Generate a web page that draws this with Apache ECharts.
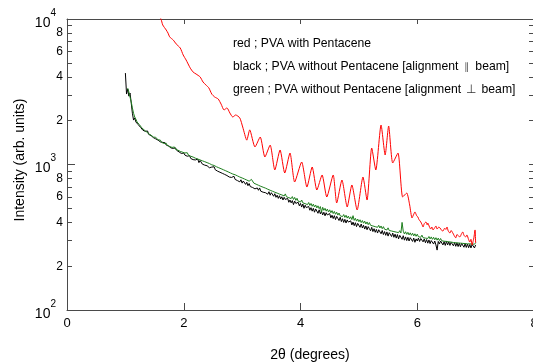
<!DOCTYPE html>
<html>
<head>
<meta charset="utf-8">
<script src="https://cdn.jsdelivr.net/npm/echarts@6/dist/echarts.min.js"></script>
<style>
  html, body { margin: 0; padding: 0; background: #ffffff; }
  #chart { width: 533px; height: 364px; }
</style>
</head>
<body>
<div id="chart"></div>
<script>
// X-ray reflectivity scans: intensity vs 2-theta
const xTickValues = [0, 2, 4, 6, 8];
const xInnerTicks = [2, 4, 6];
const yMinorTicks = [100, 200, 300, 400, 500, 600, 700, 800, 900,
                     1000, 2000, 3000, 4000, 5000, 6000, 7000, 8000, 9000, 10000];
const yMajorTicks = [100, 1000, 10000];
const yLabelValues = [100, 200, 400, 600, 800, 1000, 2000, 4000, 6000, 8000, 10000];
const yLabelTexts = ['10^2', '2', '4', '6', '8', '10^3', '2', '4', '6', '8', '10^4'];

const legendLines = [
  ['red ; PVA with Pentacene', '', ''],
  ['black ; PVA without Pentacene [alignment', '\u2225', 'beam]'],
  ['green ; PVA without Pentacene [alignment', '\u22A5', 'beam]']
];
const xAxisTitle = '2\u03B8 (degrees)';
const yAxisTitle = 'Intensity (arb. units)';

// red ; PVA with Pentacene
const redAngle = [1.56, 1.61, 1.64, 1.70, 1.73, 1.76, 1.82, 1.87, 1.94, 1.99, 2.04, 2.11, 2.16, 2.21, 2.28,
  2.33, 2.38, 2.43, 2.48, 2.53, 2.59, 2.64, 2.69, 2.74, 2.79, 2.84, 2.89, 2.96, 3.01, 3.08, 3.13,
  3.22, 3.31, 3.39, 3.48, 3.56, 3.65, 3.73, 3.82, 3.90, 4.02, 4.11, 4.20, 4.28, 4.37, 4.45, 4.56,
  4.62, 4.71, 4.80, 4.88, 4.97, 5.07, 5.14, 5.22, 5.29, 5.38, 5.45, 5.51, 5.58, 5.67, 5.75, 5.82,
  5.87, 5.91, 5.94, 5.96, 5.99, 6.01, 6.03, 6.06, 6.08, 6.10, 6.12, 6.15, 6.17, 6.18, 6.21, 6.23,
  6.25, 6.27, 6.30, 6.32, 6.34, 6.37, 6.39, 6.42, 6.44, 6.47, 6.49, 6.51, 6.53, 6.56, 6.58, 6.61,
  6.63, 6.66, 6.68, 6.71, 6.73, 6.76, 6.78, 6.80, 6.83, 6.85, 6.88, 6.90, 6.92, 6.94, 6.96, 6.97,
  6.99, 7.00];
const redIntensity = [10800, 10000, 9100, 8400, 8010, 7520, 7170, 6740, 6320, 5660, 5230, 4610, 4320, 4190, 4000,
  3690, 3520, 3360, 3050, 2910, 2820, 2600, 2370, 2450, 2260, 2120, 2190, 2090, 1810, 1470, 1730,
  1320, 1545, 1126, 1360, 917, 1258, 874, 1199, 758, 1040, 700, 961, 668, 847, 598, 847,
  544, 782, 511, 723, 487, 820, 570, 1298, 917, 1868, 1162, 1839, 1024, 1199, 598, 637,
  527, 429, 455, 472, 445, 436, 418, 403, 388, 372, 392, 403, 385, 396, 372, 360,
  372, 355, 368, 378, 360, 372, 366, 352, 349, 365, 358, 372, 350, 338, 352, 338,
  326, 313, 330, 322, 318, 335, 344, 326, 318, 328, 305, 293, 306, 280, 300, 313,
  355, 289];

// black and green scans share one angle grid (0.02 deg steps)
const scanAngle = [
  1.00, 1.02, 1.04, 1.06, 1.08, 1.10, 1.12, 1.14, 1.16, 1.18, 1.20, 1.22, 1.24, 1.26, 1.28, 1.30, 1.32, 1.34, 1.36, 1.38, 1.40, 1.42, 1.44, 1.46, 1.48,
  1.50, 1.52, 1.54, 1.56, 1.58, 1.60, 1.62, 1.64, 1.66, 1.68, 1.70, 1.72, 1.74, 1.76, 1.78, 1.80, 1.82, 1.84, 1.86, 1.88, 1.90, 1.92, 1.94, 1.96, 1.98,
  2.00, 2.02, 2.04, 2.06, 2.08, 2.10, 2.12, 2.14, 2.16, 2.18, 2.20, 2.22, 2.24, 2.26, 2.28, 2.30, 2.32, 2.34, 2.36, 2.38, 2.40, 2.42, 2.44, 2.46, 2.48,
  2.50, 2.52, 2.54, 2.56, 2.58, 2.60, 2.62, 2.64, 2.66, 2.68, 2.70, 2.72, 2.74, 2.76, 2.78, 2.80, 2.82, 2.84, 2.86, 2.88, 2.90, 2.92, 2.94, 2.96, 2.98,
  3.00, 3.02, 3.04, 3.06, 3.08, 3.10, 3.12, 3.14, 3.16, 3.18, 3.20, 3.22, 3.24, 3.26, 3.28, 3.30, 3.32, 3.34, 3.36, 3.38, 3.40, 3.42, 3.44, 3.46, 3.48,
  3.50, 3.52, 3.54, 3.56, 3.58, 3.60, 3.62, 3.64, 3.66, 3.68, 3.70, 3.72, 3.74, 3.76, 3.78, 3.80, 3.82, 3.84, 3.86, 3.88, 3.90, 3.92, 3.94, 3.96, 3.98,
  4.00, 4.02, 4.04, 4.06, 4.08, 4.10, 4.12, 4.14, 4.16, 4.18, 4.20, 4.22, 4.24, 4.26, 4.28, 4.30, 4.32, 4.34, 4.36, 4.38, 4.40, 4.42, 4.44, 4.46, 4.48,
  4.50, 4.52, 4.54, 4.56, 4.58, 4.60, 4.62, 4.64, 4.66, 4.68, 4.70, 4.72, 4.74, 4.76, 4.78, 4.80, 4.82, 4.84, 4.86, 4.88, 4.90, 4.92, 4.94, 4.96, 4.98,
  5.00, 5.02, 5.04, 5.06, 5.08, 5.10, 5.12, 5.14, 5.16, 5.18, 5.20, 5.22, 5.24, 5.26, 5.28, 5.30, 5.32, 5.34, 5.36, 5.38, 5.40, 5.42, 5.44, 5.46, 5.48,
  5.50, 5.52, 5.54, 5.56, 5.58, 5.60, 5.62, 5.64, 5.66, 5.68, 5.70, 5.72, 5.74, 5.76, 5.78, 5.80, 5.82, 5.84, 5.86, 5.88, 5.90, 5.92, 5.94, 5.96, 5.98,
  6.00, 6.02, 6.04, 6.06, 6.08, 6.10, 6.12, 6.14, 6.16, 6.18, 6.20, 6.22, 6.24, 6.26, 6.28, 6.30, 6.32, 6.34, 6.36, 6.38, 6.40, 6.42, 6.44, 6.46, 6.48,
  6.50, 6.52, 6.54, 6.56, 6.58, 6.60, 6.62, 6.64, 6.66, 6.68, 6.70, 6.72, 6.74, 6.76, 6.78, 6.80, 6.82, 6.84, 6.86, 6.88, 6.90, 6.92, 6.94, 6.96, 6.98,
  7.00];

// black ; PVA without Pentacene, alignment parallel to beam
const blackIntensity = [
  4250, 3050, 3300, 2950, 3100, 2650, 2250, 2020, 2090, 1960, 1990, 1880, 1850, 1800, 1840, 1720, 1760, 1690, 1650, 1700, 1610, 1640, 1580, 1600, 1530,
  1560, 1500, 1520, 1470, 1500, 1430, 1470, 1420, 1390, 1410, 1360, 1390, 1340, 1355, 1300, 1330, 1290, 1270, 1300, 1250, 1265, 1220, 1245, 1190, 1210,
  1200, 1160, 1185, 1140, 1130, 1150, 1100, 1125, 1080, 1110, 1075, 1060, 1090, 1030, 1065, 1040, 1005, 1035, 990, 1010, 980, 1000, 950, 975, 960,
  935, 965, 920, 940, 900, 925, 885, 905, 870, 890, 855, 875, 840, 865, 820, 845, 815, 800, 830, 790, 805, 775, 795, 760, 785,
  745, 770, 750, 730, 755, 715, 740, 705, 725, 695, 715, 680, 700, 690, 665, 690, 655, 675, 645, 665, 640, 660, 625, 650, 615,
  640, 625, 605, 630, 595, 615, 585, 610, 580, 600, 570, 595, 575, 560, 585, 550, 570, 545, 565, 530, 560, 540, 525, 550, 520,
  540, 510, 535, 500, 525, 505, 490, 515, 485, 505, 478, 500, 470, 495, 480, 462, 488, 458, 476, 450, 470, 444, 466, 450, 436,
  460, 430, 448, 425, 445, 418, 440, 426, 412, 434, 405, 424, 400, 420, 396, 416, 402, 390, 410, 384, 402, 380, 398, 374, 394,
  382, 370, 390, 366, 382, 360, 378, 356, 374, 362, 350, 370, 346, 362, 342, 358, 338, 356, 346, 334, 352, 330, 346, 326, 344,
  322, 340, 332, 320, 338, 316, 332, 312, 330, 308, 326, 318, 306, 324, 302, 318, 300, 316, 298, 314, 306, 296, 312, 292, 308,
  298, 312, 296, 310, 304, 294, 308, 290, 305, 288, 303, 286, 300, 294, 284, 298, 280, 258, 296, 284, 298, 290, 280, 295, 278,
  296, 280, 294, 278, 292, 286, 276, 291, 274, 289, 273, 288, 272, 287, 280, 270, 286, 269, 284, 268, 282, 267, 282, 276, 267,
  280];

// green ; PVA without Pentacene, alignment perpendicular to beam
const greenIntensity = [
  null, null, 3350, 3150, 2900, 2700, 2450, 2250, 2120, 2050, 1960, 1930, 1880, 1830, 1790, 1760, 1730, 1700, 1680, 1650, 1625, 1600, 1590, 1555, 1545,
  1520, 1535, 1490, 1480, 1450, 1470, 1420, 1435, 1395, 1380, 1400, 1350, 1370, 1330, 1355, 1310, 1300, 1320, 1270, 1290, 1255, 1270, 1230, 1250, 1215,
  1230, 1200, 1180, 1205, 1160, 1175, 1140, 1160, 1125, 1140, 1105, 1125, 1090, 1110, 1075, 1095, 1060, 1080, 1045, 1065, 1030, 1050, 1015, 1035, 995,
  1020, 985, 1000, 965, 985, 950, 970, 935, 955, 920, 940, 905, 925, 890, 910, 875, 895, 860, 880, 850, 868, 835, 855, 820, 842,
  808, 828, 795, 815, 782, 800, 768, 790, 790, 775, 745, 762, 732, 752, 720, 740, 708, 728, 698, 716, 688, 705, 676, 695, 665,
  684, 655, 675, 645, 665, 636, 655, 626, 645, 618, 636, 608, 628, 600, 618, 592, 610, 583, 602, 575, 594, 567, 586, 560, 578,
  552, 570, 545, 562, 538, 555, 530, 548, 523, 540, 516, 534, 510, 527, 503, 520, 497, 514, 470, 508, 484, 500, 478, 494, 472,
  488, 466, 482, 460, 476, 455, 470, 449, 464, 444, 458, 438, 453, 433, 448, 428, 442, 423, 437, 418, 445, 413, 427, 408, 422,
  404, 417, 399, 412, 395, 408, 390, 403, 386, 399, 382, 394, 378, 390, 374, 386, 370, 382, 366, 378, 362, 374, 359, 370, 355,
  367, 352, 363, 349, 360, 346, 357, 343, 354, 340, 351, 338, 400, 348, 333, 345, 331, 342, 328, 339, 326, 337, 323, 334, 321,
  332, 319, 329, 316, 327, 314, 324, 312, 322, 310, 320, 308, 318, 306, 316, 304, 314, 302, 312, 300, 310, 299, 308, 297, 306,
  296, 305, 294, 303, 293, 302, 291, 300, 290, 299, 289, 298, 288, 297, 287, 296, 286, 295, 285, 294, 285, 293, 284, 292, 283,
  290];

const FONT = '"Liberation Sans", Arial, sans-serif';
const AXIS_COLOR = '#4a4a4a';

function pairs(xs, ys) {
  return xs.map((x, i) => [x, ys[i] == null ? '-' : ys[i]]);
}
const log10 = v => Math.log10(v);

function yLabel(value) {
  const idx = yLabelValues.findIndex(v => Math.abs(log10(v) - value) < 1e-6);
  if (idx < 0) return '';
  const t = yLabelTexts[idx];
  if (t.indexOf('^') >= 0) {
    const parts = t.split('^');
    return '{b|' + parts[0] + '}{s|' + parts[1] + '}';
  }
  return '{d|' + t + '}';
}

function legendText(parts) {
  if (!parts[1]) return '{n|' + parts[0] + '}';
  const sym = parts[1] === '\u2225' ? 'p' : 'q';
  return '{n|' + parts[0] + '}{' + sym + '|' + parts[1] + '}{n|' + parts[2] + '}';
}

const chart = echarts.init(document.getElementById('chart'), null, { renderer: 'canvas' });

const baseLog = { min: 2, max: 4, gridIndex: 0 };

chart.setOption({
  animation: false,
  backgroundColor: '#ffffff',
  grid: { left: 67, right: -1, top: 19, bottom: 54, containLabel: false, outerBoundsMode: 'none' },
  xAxis: [
    {
      type: 'value', min: 0, max: 8, interval: 2, position: 'bottom',
      axisLine: { show: true, lineStyle: { color: AXIS_COLOR, width: 1 } },
      axisTick: { show: true, inside: true, length: 7, customValues: xInnerTicks,
                  lineStyle: { color: AXIS_COLOR, width: 1 } },
      axisLabel: { show: true, margin: 7, fontSize: 13, fontFamily: FONT, color: '#000',
                   customValues: xTickValues, hideOverlap: false },
      splitLine: { show: false }
    },
    {
      type: 'value', min: 0, max: 8, interval: 2, position: 'top',
      axisLine: { show: true, lineStyle: { color: AXIS_COLOR, width: 1 } },
      axisTick: { show: true, inside: true, length: 5, customValues: xInnerTicks,
                  lineStyle: { color: AXIS_COLOR, width: 1 } },
      axisLabel: { show: false },
      splitLine: { show: false }
    }
  ],
  yAxis: [
    {
      // data axis (logarithmic)
      type: 'log', logBase: 10, min: 100, max: 10000, position: 'left',
      axisLine: { show: true, lineStyle: { color: AXIS_COLOR, width: 1 } },
      axisTick: { show: false }, axisLabel: { show: false },
      splitLine: { show: false }, minorTick: { show: false }
    },
    Object.assign({
      // minor ticks and labels on the left
      type: 'value', position: 'left',
      axisLine: { show: false },
      axisTick: { show: true, inside: true, length: 5, customValues: yMinorTicks.map(log10),
                  lineStyle: { color: AXIS_COLOR, width: 1 } },
      axisLabel: {
        show: true, margin: 4, customValues: yLabelValues.map(log10),
        formatter: yLabel,
        rich: {
          d: { fontSize: 12, fontFamily: FONT, color: '#000' },
          b: { fontSize: 14, fontFamily: FONT, color: '#000', padding: [8, 0, 0, 0] },
          s: { fontSize: 10, fontFamily: FONT, color: '#000', verticalAlign: 'top', padding: [0, 7, 0, 0] }
        }
      },
      splitLine: { show: false }
    }, baseLog),
    Object.assign({
      // decade ticks on the left
      type: 'value', position: 'left',
      axisLine: { show: false },
      axisTick: { show: true, inside: true, length: 8, customValues: yMajorTicks.map(log10),
                  lineStyle: { color: AXIS_COLOR, width: 1 } },
      axisLabel: { show: false },
      splitLine: { show: false }
    }, baseLog),
    Object.assign({
      // ticks on the right frame
      type: 'value', position: 'right',
      axisLine: { show: true, lineStyle: { color: AXIS_COLOR, width: 1 } },
      axisTick: { show: true, inside: true, length: 5, customValues: yMinorTicks.map(log10),
                  lineStyle: { color: AXIS_COLOR, width: 1 } },
      axisLabel: { show: false },
      splitLine: { show: false }
    }, baseLog)
  ],
  series: [
    {
      name: 'black', type: 'line', xAxisIndex: 0, yAxisIndex: 0,
      data: pairs(scanAngle, blackIntensity),
      showSymbol: false, symbol: 'none', smooth: false, clip: true,
      lineStyle: { color: '#000000', width: 1 }
    },
    {
      name: 'green', type: 'line', xAxisIndex: 0, yAxisIndex: 0,
      data: pairs(scanAngle, greenIntensity),
      showSymbol: false, symbol: 'none', smooth: false, clip: true,
      lineStyle: { color: '#1f7f1f', width: 1 }
    },
    {
      name: 'red', type: 'line', xAxisIndex: 0, yAxisIndex: 0,
      data: pairs(redAngle, redIntensity),
      showSymbol: false, symbol: 'none', smooth: 0.2, clip: true,
      lineStyle: { color: '#ff0000', width: 1 }
    }
  ],
  graphic: [
    {
      type: 'text', x: 20, y: 160, rotation: Math.PI / 2,
      style: { text: yAxisTitle, font: '14px ' + FONT, fill: '#000', align: 'center', verticalAlign: 'middle' }
    },
    {
      type: 'text', x: 310, y: 355,
      style: { text: xAxisTitle, font: '14px ' + FONT, fill: '#000', align: 'center', verticalAlign: 'middle' }
    }
  ].concat(legendLines.map((parts, i) => ({
    type: 'text', x: 233, y: 44 + i * 23,
    style: {
      text: legendText(parts), align: 'left', verticalAlign: 'middle',
      rich: {
        n: { fontSize: 12.2, fontFamily: FONT, fill: '#000' },
        p: { fontSize: 10, fontFamily: '"DejaVu Sans"', fill: '#555', padding: [0, 6, 0, 6] },
        q: { fontSize: 12, fontFamily: '"DejaVu Sans"', fill: '#333', padding: [0, 5, 0, 5] }
      }
    }
  })))
});
</script>
</body>
</html>
